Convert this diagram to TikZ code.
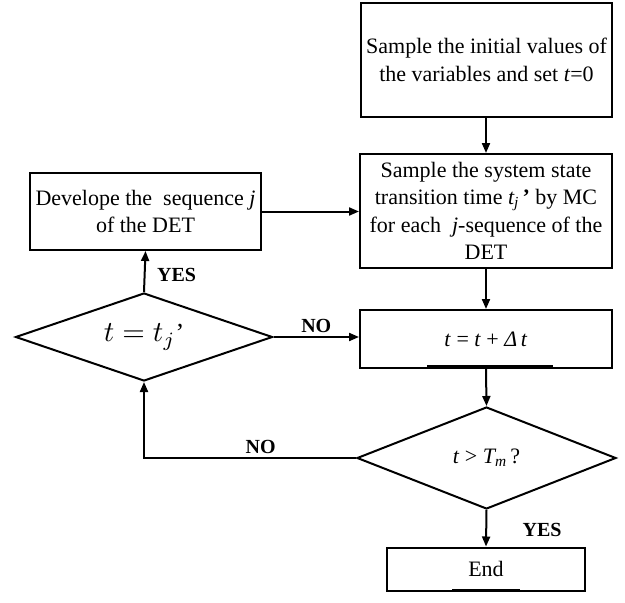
\documentclass[tikz,border=0pt]{standalone}
\usepackage{fontspec}
\setmainfont{Liberation Serif}
\usepackage{tikz}
\usetikzlibrary{shapes.geometric,arrows.meta}
\definecolor{ink}{HTML}{000000}
\tikzset{
  box/.style={draw=ink, line width=2pt, rectangle, align=center, inner sep=2pt,
    font=\fontsize{22}{27.5}\selectfont},
  test/.style={draw=ink, line width=2pt, diamond, inner sep=0pt, align=center},
  flow/.style={draw=ink, line width=2pt, -{Triangle[length=10pt,width=8pt]}},
  stroke/.style={draw=ink, line width=3.5pt},
  lab/.style={text=ink, font=\fontsize{20}{22}\selectfont\bfseries},
}

\begin{document}
\begin{tikzpicture}[x=1pt,y=-1pt]
  \useasboundingbox (0,0) rectangle (625,603);

  \node[box,minimum width=251pt,minimum height=114pt] (init) at (486.5,60)
    {Sample the initial values of\\the variables and set \textit{t}=0};
  \node[box,minimum width=252pt,minimum height=114pt] (samp) at (486,211)
    {Sample the system state\\transition time \textit{t\textsubscript{j}}\,\textbf{’} by MC\\for each \ \textit{j}-sequence of the\\DET};
  \node[box,minimum width=231pt,minimum height=77pt] (dev) at (145.5,211.5)
    {Develope the \ sequence \textit{j}\\of the DET};
  \node[box,minimum width=252pt,minimum height=58pt] (upd) at (486,339)
    {\textit{t} = \textit{t} + \textit{Δ\,t}};
  \node[test,aspect=2.9,minimum width=257pt,minimum height=88pt] (eq) at (144,337)
    {{\fontsize{10}{12}\selectfont\scalebox{2.9}{$t = t_{j}$}}{\fontsize{26}{26}\selectfont’}};
  \node[test,aspect=2.5,minimum width=259pt,minimum height=102pt,font=\fontsize{22}{24}\selectfont] (cmp) at (486.5,458)
    {\textit{t} > \textit{T\textsubscript{m}}\,?};
  \node[box,minimum width=198pt,minimum height=43pt] (end) at (486,569) {End};

  % bottom strokes
  \draw[stroke] (427,367) -- (553,367);
  \draw[stroke] (452,590.5) -- (520,590.5);

  \draw[flow] (samp.north |- init.south) -- (samp.north);
  \draw[flow] (dev.east) -- (dev.east -| samp.west);
  \draw[flow] (samp.south) -- (upd.north);
  \draw[flow] (upd.south) -- (cmp.north);
  \draw[flow] (cmp.south) -- node[lab,right,xshift=32pt,yshift=-2pt] {YES} (end.north);
  \draw[flow] (cmp.west) -- node[lab,above,pos=0.45] {NO} (cmp.west -| eq.south) -- (eq.south);
  \draw[flow] (eq.east) -- node[lab,above] {NO} (eq.east -| upd.west);
  \draw[flow] (eq.north) -- node[lab,right,xshift=8pt,yshift=-3pt] {YES} (dev.south);
\end{tikzpicture}
\end{document}
